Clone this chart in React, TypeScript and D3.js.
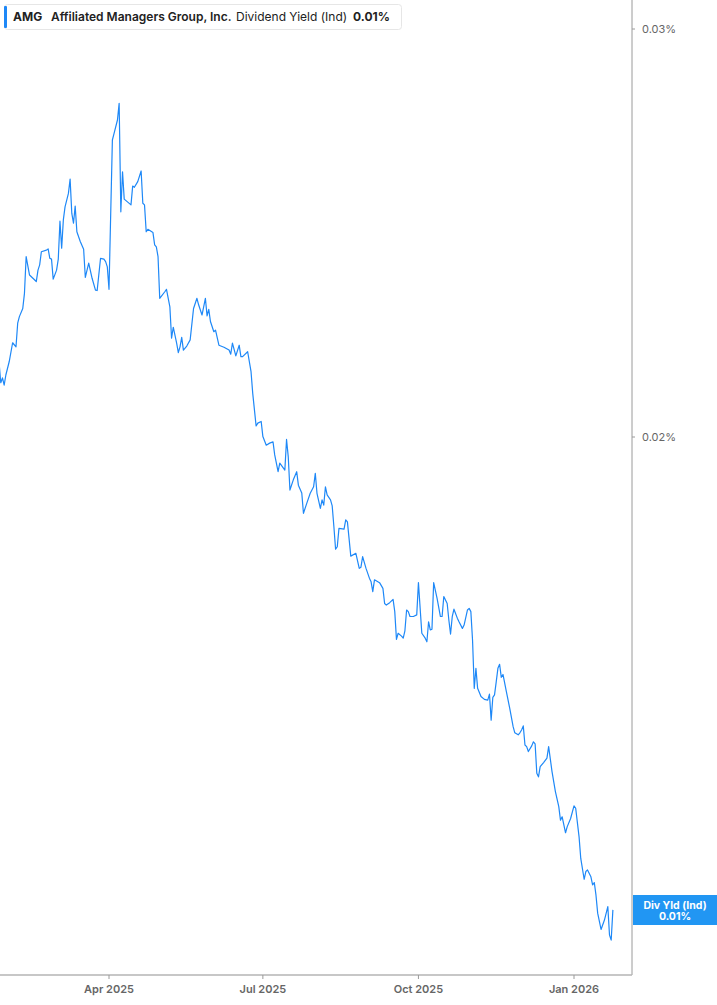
import React from "react";
import * as d3 from "d3";

// daily dividend yield (%), one line per month
const dates = [
  "2025-01-26", "2025-01-27", "2025-01-28", "2025-01-29", "2025-01-30",
  "2025-02-01", "2025-02-03", "2025-02-05", "2025-02-06", "2025-02-07", "2025-02-09", "2025-02-10", "2025-02-11", "2025-02-13", "2025-02-17", "2025-02-18", "2025-02-19", "2025-02-20", "2025-02-23", "2025-02-24", "2025-02-25", "2025-02-26", "2025-02-27",
  "2025-03-01", "2025-03-02", "2025-03-03", "2025-03-04", "2025-03-05", "2025-03-06", "2025-03-08", "2025-03-09", "2025-03-10", "2025-03-11", "2025-03-12", "2025-03-13", "2025-03-15", "2025-03-17", "2025-03-18", "2025-03-20", "2025-03-22", "2025-03-24", "2025-03-25", "2025-03-27", "2025-03-29", "2025-03-30", "2025-03-31",
  "2025-04-01", "2025-04-03", "2025-04-04", "2025-04-06", "2025-04-07", "2025-04-08", "2025-04-09", "2025-04-10", "2025-04-14", "2025-04-15", "2025-04-16", "2025-04-18", "2025-04-20", "2025-04-21", "2025-04-22", "2025-04-23", "2025-04-24", "2025-04-27", "2025-04-28", "2025-04-29", "2025-04-30",
  "2025-05-01", "2025-05-04", "2025-05-05", "2025-05-07", "2025-05-08", "2025-05-09", "2025-05-11", "2025-05-12", "2025-05-13", "2025-05-14", "2025-05-15", "2025-05-17", "2025-05-19", "2025-05-21", "2025-05-23", "2025-05-24", "2025-05-26", "2025-05-28", "2025-05-29", "2025-05-30", "2025-05-31",
  "2025-06-02", "2025-06-03", "2025-06-05", "2025-06-08", "2025-06-11", "2025-06-12", "2025-06-13", "2025-06-15", "2025-06-17", "2025-06-18", "2025-06-19", "2025-06-22", "2025-06-24", "2025-06-25", "2025-06-27", "2025-06-28", "2025-06-30",
  "2025-07-01", "2025-07-03", "2025-07-05", "2025-07-07", "2025-07-08", "2025-07-10", "2025-07-11", "2025-07-14", "2025-07-15", "2025-07-16", "2025-07-17", "2025-07-19", "2025-07-21", "2025-07-22", "2025-07-24", "2025-07-25", "2025-07-27", "2025-07-29", "2025-07-31",
  "2025-08-01", "2025-08-02", "2025-08-04", "2025-08-05", "2025-08-06", "2025-08-07", "2025-08-08", "2025-08-10", "2025-08-11", "2025-08-12", "2025-08-13", "2025-08-14", "2025-08-15", "2025-08-18", "2025-08-19", "2025-08-20", "2025-08-22", "2025-08-25", "2025-08-27", "2025-08-28", "2025-08-29", "2025-08-31",
  "2025-09-02", "2025-09-03", "2025-09-04", "2025-09-05", "2025-09-08", "2025-09-10", "2025-09-11", "2025-09-12", "2025-09-14", "2025-09-16", "2025-09-17", "2025-09-18", "2025-09-19", "2025-09-21", "2025-09-22", "2025-09-23", "2025-09-24", "2025-09-25", "2025-09-26", "2025-09-28", "2025-09-30",
  "2025-10-01", "2025-10-03", "2025-10-05", "2025-10-06", "2025-10-07", "2025-10-08", "2025-10-09", "2025-10-10", "2025-10-12", "2025-10-14", "2025-10-15", "2025-10-16", "2025-10-18", "2025-10-19", "2025-10-20", "2025-10-21", "2025-10-22", "2025-10-24", "2025-10-25", "2025-10-27", "2025-10-28", "2025-10-30", "2025-10-31",
  "2025-11-01", "2025-11-02", "2025-11-03", "2025-11-04", "2025-11-05", "2025-11-07", "2025-11-09", "2025-11-11", "2025-11-12", "2025-11-13", "2025-11-14", "2025-11-15", "2025-11-16", "2025-11-17", "2025-11-18", "2025-11-19", "2025-11-20", "2025-11-22", "2025-11-24", "2025-11-26", "2025-11-27", "2025-11-29", "2025-11-30",
  "2025-12-01", "2025-12-02", "2025-12-03", "2025-12-04", "2025-12-05", "2025-12-07", "2025-12-08", "2025-12-09", "2025-12-10", "2025-12-11", "2025-12-12", "2025-12-14", "2025-12-16", "2025-12-17", "2025-12-19", "2025-12-21", "2025-12-23", "2025-12-24", "2025-12-25", "2025-12-27", "2025-12-28", "2025-12-30",
  "2026-01-01", "2026-01-02", "2026-01-04", "2026-01-05", "2026-01-07", "2026-01-08", "2026-01-09", "2026-01-11", "2026-01-12", "2026-01-13", "2026-01-14", "2026-01-15", "2026-01-17", "2026-01-19", "2026-01-21", "2026-01-22", "2026-01-23", "2026-01-24",
];

const yieldPct = [
  0.02181, 0.02133, 0.02145, 0.02127, 0.02152,
  0.02185, 0.02231, 0.02221, 0.02279, 0.02295, 0.02315, 0.02352, 0.02442, 0.02397, 0.02381, 0.02409, 0.02422, 0.02454, 0.02458, 0.02461, 0.02438, 0.02436, 0.02387,
  0.02409, 0.02436, 0.02529, 0.02463, 0.02532, 0.02564, 0.02597, 0.02632, 0.02548, 0.02524, 0.02566, 0.02503, 0.02479, 0.0246, 0.02391, 0.02426, 0.02389, 0.0236, 0.02359, 0.02438, 0.02436, 0.0243, 0.02417,
  0.02362, 0.02728, 0.02744, 0.02777, 0.02818, 0.02552, 0.0265, 0.02583, 0.02569, 0.02615, 0.02612, 0.02626, 0.02652, 0.02573, 0.02569, 0.02503, 0.02509, 0.02501, 0.02471, 0.02466, 0.02442,
  0.0234, 0.02356, 0.02362, 0.02319, 0.02242, 0.02269, 0.0223, 0.02207, 0.02221, 0.02244, 0.02213, 0.02223, 0.02238, 0.02315, 0.0234, 0.02324, 0.02299, 0.0234, 0.02297, 0.02313, 0.02283,
  0.02258, 0.02262, 0.02225, 0.0222, 0.02213, 0.02203, 0.0223, 0.02199, 0.02225, 0.02197, 0.02197, 0.02209, 0.0216, 0.02107, 0.02027, 0.02034, 0.02038,
  0.02001, 0.0198, 0.01985, 0.01988, 0.01956, 0.01915, 0.01936, 0.01919, 0.01994, 0.01952, 0.0187, 0.01895, 0.01915, 0.01882, 0.01863, 0.01813, 0.01838, 0.01862, 0.01878,
  0.01911, 0.01862, 0.01825, 0.01846, 0.01833, 0.01878, 0.01858, 0.01846, 0.01831, 0.0178, 0.01725, 0.01731, 0.01776, 0.01774, 0.01797, 0.01792, 0.01708, 0.01715, 0.01678, 0.01681, 0.01707, 0.01678,
  0.01654, 0.01645, 0.01621, 0.0165, 0.01643, 0.01629, 0.01592, 0.01588, 0.01594, 0.01602, 0.01572, 0.01504, 0.01519, 0.01512, 0.01507, 0.01525, 0.01576, 0.01572, 0.0156, 0.0156, 0.01564,
  0.01643, 0.01519, 0.01507, 0.01498, 0.01547, 0.01527, 0.01529, 0.01643, 0.01605, 0.0156, 0.0156, 0.01609, 0.01592, 0.01551, 0.01517, 0.0156, 0.01578, 0.01556, 0.01547, 0.01531, 0.01539, 0.01576, 0.0158,
  0.01572, 0.01502, 0.01384, 0.01433, 0.01384, 0.01364, 0.01357, 0.01355, 0.0137, 0.01306, 0.01362, 0.01368, 0.014, 0.01433, 0.01443, 0.01411, 0.01418, 0.01376, 0.01335, 0.0129, 0.01275, 0.0127, 0.01275,
  0.01282, 0.01292, 0.01245, 0.01241, 0.01229, 0.01243, 0.01253, 0.01248, 0.01176, 0.01167, 0.01192, 0.01202, 0.01213, 0.01241, 0.0118, 0.01131, 0.01094, 0.01061, 0.01069, 0.0103, 0.01045, 0.01065,
  0.01096, 0.0109, 0.0102, 0.00967, 0.00916, 0.00935, 0.00939, 0.00922, 0.00902, 0.00908, 0.00877, 0.00833, 0.00793, 0.00816, 0.00849, 0.00779, 0.00767, 0.00841,
];

const yTicks = [0.02, 0.03];
const xTicks = ["2025-04-01", "2025-07-01", "2025-10-01", "2026-01-01"];

const ticker = "AMG";
const company = "Affiliated Managers Group, Inc.";
const metric = "Dividend Yield (Ind)";
const shortMetric = "Div Yld (Ind)";

const width = 717;
const height = 1005;
const plotRight = 632;
const plotBottom = 975;
const blue = "#1e88f7";
const font = "Inter, Roboto, 'Noto Sans', sans-serif";

const App = () => {
  const parse = d3.timeParse("%Y-%m-%d");
  const data = dates.map((d, i) => ({ date: parse(d) as Date, value: yieldPct[i] }));

  // tick dates pinned where the reference draws them
  const x = d3
    .scaleTime()
    .domain([parse("2025-04-01") as Date, parse("2026-01-01") as Date])
    .range([109, 574]);
  const y = d3.scaleLinear().domain([0.02, 0.03]).range([437, 29]);

  const line = d3
    .line<any>()
    .x((d) => x(d.date))
    .y((d) => y(d.value));

  const fmtTick = d3.timeFormat("%b %Y");
  const last = data[data.length - 1];
  const lastLabel = last.value.toFixed(2) + "%";

  return (
    <svg
      width={width}
      height={height}
      style={{ position: "absolute", left: 0, top: 0, background: "#fff" }}
      fontFamily={font}
    >
      <defs>
        <clipPath id="plot">
          <rect x={0} y={0} width={plotRight} height={plotBottom} />
        </clipPath>
      </defs>

      {/* series */}
      <path
        d={line(data) || ""}
        fill="none"
        stroke={blue}
        strokeWidth={1.2}
        strokeLinejoin="round"
        clipPath="url(#plot)"
      />

      {/* right axis */}
      <line x1={plotRight} x2={plotRight} y1={0} y2={plotBottom} stroke="#9a9a9a" strokeWidth={1} />
      {yTicks.map((t) => (
        <g key={t} transform={`translate(${plotRight},${y(t)})`}>
          <line x1={0} x2={3} stroke="#9a9a9a" />
          <text x={10} dy="0.35em" fontSize={11} fill="#666">
            {t.toFixed(2)}%
          </text>
        </g>
      ))}

      {/* bottom axis */}
      <line x1={0} x2={plotRight} y1={plotBottom} y2={plotBottom} stroke="#b4b4b4" strokeWidth={1.5} />
      {xTicks.map((t) => {
        const d = parse(t) as Date;
        return (
          <g key={t} transform={`translate(${x(d)},${plotBottom})`}>
            <line y1={0} y2={4} stroke="#9a9a9a" />
            <text y={18} textAnchor="middle" fontSize={11} fontWeight={600} fill="#666">
              {fmtTick(d)}
            </text>
          </g>
        );
      })}

      {/* last value badge */}
      <rect x={plotRight + 1} y={895} width={width - plotRight - 1} height={30} fill="#2196f3" />
      <text x={675} y={908.5} textAnchor="middle" fontSize={10.5} fontWeight={700} fill="#fff">
        {shortMetric}
      </text>
      <text x={675} y={920} textAnchor="middle" fontSize={10.5} fontWeight={700} fill="#fff">
        {lastLabel}
      </text>

      {/* legend */}
      <rect x={4.5} y={4.5} width={397} height={25} rx={3} fill="#fff" stroke="#e6e6e6" />
      <rect x={4} y={6} width={3} height={22} rx={1} fill={blue} />
      <text y={21} fontSize={12} fill="#222">
        <tspan x={13} fontWeight={700}>{ticker}</tspan>
        <tspan x={51} fontWeight={600}>{company}</tspan>
        <tspan x={236} fontWeight={400}>{metric}</tspan>
        <tspan x={353} fontWeight={700}>{lastLabel}</tspan>
      </text>
    </svg>
  );
};

export default App;
